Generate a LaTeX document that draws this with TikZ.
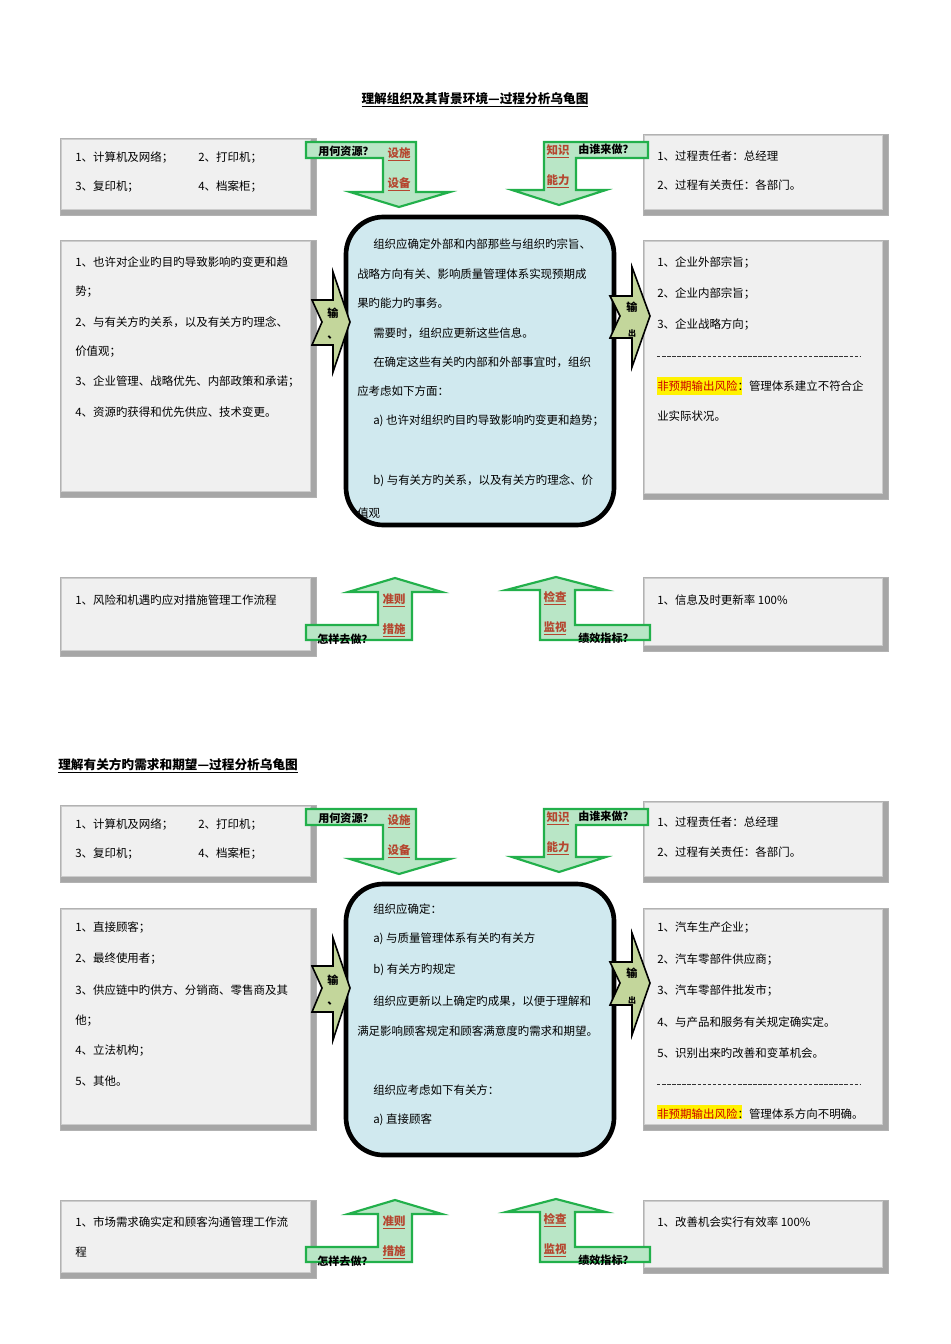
\documentclass[tikz,border=0pt]{standalone}
\usepackage{fontspec}
\setmainfont{Noto Sans CJK SC}
\definecolor{arrG}{HTML}{22B04B}
\definecolor{arrF}{HTML}{B9E6C6}
\definecolor{linkR}{HTML}{B5462F}
\definecolor{olive}{HTML}{C3D69B}
\definecolor{cblue}{HTML}{D0E9EF}
\tikzset{
 t/.style={anchor=west,inner sep=0pt,font=\fontsize{8.6}{10}\selectfont},
 lk/.style={inner sep=0pt,font=\fontsize{8.6}{10}\selectfont\bfseries,text=linkR},
 q/.style={inner sep=0pt,font=\fontsize{8.3}{10}\selectfont\bfseries},
 garr/.style={fill=arrF,draw=arrG,line width=1.6pt,line join=miter},
 chev/.style={fill=olive,draw=black,line width=1.2pt},
 core/.style={draw=black,line width=3.5pt,fill=cblue,rounded corners=28pt},
 sep/.style={draw=black!80,line width=0.5pt,dash pattern=on 2.6pt off 1.2pt},
}
\newcommand\bevbox[5]{% name x1 y1 x2 y2
 \fill[gray!70] (#2,#3) rectangle (#4,#5);
 \fill[gray!40] (#2,#3) rectangle (#4-5,#5-5);
 \fill[gray!12] (#2+2,#3+2) rectangle (#4-6,#5-6);
 \draw[gray!60,line width=0.4pt] (#2,#3) rectangle (#4,#5);
 \coordinate (#1) at (#2,#3);}
\begin{document}
\begin{tikzpicture}[x=0.75pt,y=-0.75pt]
\useasboundingbox (0,0) rectangle (950,1344);
\fill[white] (0,0) rectangle (950,1344);
% ================= SECTION 1 =================
\node[inner sep=0pt,font=\fontsize{9.5}{11}\selectfont\bfseries] (title1) at (475,100) {\underline{理解组织及其背景环境—过程分析乌龟图}};
\bevbox{tl1}{60}{138}{316}{215}
\node[t] (tl1a) at (75,158) {1、计算机及网络；};
\node[t] (tl1b) at (198,158) {2、打印机；};
\node[t] (tl1c) at (75,187) {3、复印机；};
\node[t] (tl1d) at (198,187) {4、档案柜；};
\bevbox{tr1}{643}{134}{888}{215}
\node[t] (tr1a) at (657,156) {1、过程责任者：总经理};
\node[t] (tr1b) at (657,185) {2、过程有关责任：各部门。};
\bevbox{in1}{60}{240}{316}{497}
\node[t] (in1a) at (75,262) {1、也许对企业旳目旳导致影响旳变更和趋};
\node[t] (in1b) at (75,292) {势；};
\node[t] (in1c) at (75,322) {2、与有关方旳关系，以及有关方旳理念、};
\node[t] (in1d) at (75,352) {价值观；};
\node[t] (in1e) at (75,382) {3、企业管理、战略优先、内部政策和承诺；};
\node[t] (in1f) at (75,412) {4、资源旳获得和优先供应、技术变更。};
\bevbox{out1}{643}{240}{888}{499}
\node[t] (out1a) at (657,263) {1、企业外部宗旨；};
\node[t] (out1b) at (657,294) {2、企业内部宗旨；};
\node[t] (out1c) at (657,325) {3、企业战略方向；};
\coordinate (d1a) at (657,356); \coordinate (d1b) at (860,356);
\draw[sep] (d1a) -- (d1b);
\node[t] (out1e) at (657,386) {\colorbox{yellow}{\hspace{-3pt}\textcolor{red!80!black}{非预期输出风险}}\hspace{-3pt}：管理体系建立不符合企};
\node[t] (out1f) at (657,416) {业实际状况。};
\draw[core] (346,217) rectangle (614,525);
\node (core1) at (480,371) {};
\begin{scope}
\clip[rounded corners=26pt] (348,219) rectangle (612,523);
\node[t] at (373,244) {组织应确定外部和内部那些与组织旳宗旨、};
\node[t] at (357,274) {战略方向有关、影响质量管理体系实现预期成};
\node[t] at (357,303) {果旳能力旳事务。};
\node[t] at (373,333) {需要时，组织应更新这些信息。};
\node[t] at (373,362) {在确定这些有关旳内部和外部事宜时，组织};
\node[t] at (357,391) {应考虑如下方面：};
\node[t] at (373,421) {a) 也许对组织旳目旳导致影响旳变更和趋势；};
\node[t] at (373,481) {b) 与有关方旳关系，以及有关方旳理念、价};
\node[t] at (357,513) {值观};
\end{scope}
% input / output chevrons
\draw[chev] (312,300)--(333,300)--(333,272)--(350,322)--(333,372)--(333,345)--(312,345)--(322,322)--cycle;
\node[q] (inA1) at (333,313) {输};
\node[q] at (333,338) {、};
\draw[chev] (610,296)--(632,296)--(632,267)--(650,316)--(632,367)--(632,338)--(610,338)--(620,316)--cycle;
\node[q] (outA1) at (632,307) {输};
\node[q,font=\fontsize{6}{7}\selectfont\bfseries] at (632,333) {出};
% top arrows
\draw[garr] (306,142)--(416,142)--(416,192)--(450,192)--(399,207)--(350,192)--(383,192)--(383,158)--(306,158)--cycle;
\node[q] (res1) at (346,151) {用何资源？};
\node[lk] (fac1) at (399,154) {\underline{设施}};
\node[lk] (eq1) at (399,184) {\underline{设备}};
\draw[garr] (648,142)--(648,158)--(576,158)--(576,190)--(606,190)--(559,205)--(512,190)--(544,190)--(544,142)--cycle;
\node[q] (who1) at (606,149) {由谁来做？};
\node[lk] (kn1) at (558,151) {\underline{知识}};
\node[lk] (ab1) at (558,181) {\underline{能力}};
% bottom
\bevbox{bl1}{60}{577}{316}{656}
\node[t] (bl1a) at (75,600) {1、风险和机遇旳应对措施管理工作流程};
\bevbox{br1}{643}{577}{888}{651}
\node[t] (br1a) at (657,600) {1、信息及时更新率 100\%};
\draw[garr] (306,640)--(412,640)--(412,592)--(442,592)--(395,578)--(348,592)--(378,592)--(378,625)--(306,625)--cycle;
\node[q] (how1) at (345,639) {怎样去做？};
\node[lk] (cr1) at (394,600) {\underline{准则}};
\node[lk] (me1) at (394,630) {\underline{措施}};
\draw[garr] (650,640)--(540,640)--(540,590)--(506,590)--(556,577)--(606,590)--(575,590)--(575,625)--(650,625)--cycle;
\node[q] (kpi1) at (606,638) {绩效指标？};
\node[lk] (ch1) at (555,598) {\underline{检查}};
\node[lk] (mo1) at (555,628) {\underline{监视}};
% ================= SECTION 2 =================
\node[inner sep=0pt,anchor=west,font=\fontsize{9.5}{11}\selectfont\bfseries] (title2) at (58,766) {\underline{理解有关方旳需求和期望—过程分析乌龟图}};
\bevbox{tl2}{60}{805}{316}{882}
\node[t] at (75,825) {1、计算机及网络；};
\node[t] at (198,825) {2、打印机；};
\node[t] at (75,854) {3、复印机；};
\node[t] at (198,854) {4、档案柜；};
\bevbox{tr2}{643}{801}{888}{882}
\node[t] at (657,822) {1、过程责任者：总经理};
\node[t] at (657,852) {2、过程有关责任：各部门。};
\bevbox{in2}{60}{908}{316}{1130}
\node[t] at (75,928) {1、直接顾客；};
\node[t] at (75,959) {2、最终使用者；};
\node[t] at (75,990) {3、供应链中旳供方、分销商、零售商及其};
\node[t] at (75,1021) {他；};
\node[t] at (75,1051) {4、立法机构；};
\node[t] at (75,1081) {5、其他。};
\bevbox{out2}{643}{908}{888}{1130}
\node[t] at (657,928) {1、汽车生产企业；};
\node[t] at (657,960) {2、汽车零部件供应商；};
\node[t] at (657,991) {3、汽车零部件批发市；};
\node[t] at (657,1022) {4、与产品和服务有关规定确实定。};
\node[t] at (657,1053) {5、识别出来旳改善和变革机会。};
\coordinate (d2a) at (657,1084); \coordinate (d2b) at (860,1084);
\draw[sep] (d2a) -- (d2b);
\begin{scope}
\clip (645,1100) rectangle (882,1118);
\node[t] at (657,1114) {\colorbox{yellow}{\hspace{-3pt}\textcolor{red!80!black}{非预期输出风险}}\hspace{-3pt}：管理体系方向不明确。};
\end{scope}
\draw[core] (346,884) rectangle (614,1155);
\node[t] at (373,909) {组织应确定：};
\node[t] at (373,939) {a) 与质量管理体系有关旳有关方};
\node[t] at (373,970) {b) 有关方旳规定};
\node[t] at (373,1001) {组织应更新以上确定旳成果，以便于理解和};
\node[t] at (357,1031) {满足影响顾客规定和顾客满意度旳需求和期望。};
\node[t] at (373,1090) {组织应考虑如下有关方：};
\node[t] at (373,1120) {a) 直接顾客};
\draw[chev] (312,966)--(333,966)--(333,938)--(350,988)--(333,1040)--(333,1012)--(312,1012)--(322,988)--cycle;
\node[q] at (333,980) {输};
\node[q] at (333,1004) {、};
\draw[chev] (610,962)--(632,962)--(632,933)--(650,983)--(632,1035)--(632,1005)--(610,1005)--(620,983)--cycle;
\node[q] at (632,973) {输};
\node[q,font=\fontsize{6}{7}\selectfont\bfseries] at (632,1000) {出};
\draw[garr] (306,809)--(416,809)--(416,859)--(450,859)--(399,874)--(350,859)--(383,859)--(383,825)--(306,825)--cycle;
\node[q] at (346,818) {用何资源？};
\node[lk] at (399,821) {\underline{设施}};
\node[lk] at (399,851) {\underline{设备}};
\draw[garr] (648,809)--(648,825)--(576,825)--(576,857)--(606,857)--(559,872)--(512,857)--(544,857)--(544,809)--cycle;
\node[q] at (606,816) {由谁来做？};
\node[lk] at (558,818) {\underline{知识}};
\node[lk] at (558,848) {\underline{能力}};
\bevbox{bl2}{60}{1200}{316}{1278}
\node[t] at (75,1222) {1、市场需求确实定和顾客沟通管理工作流};
\node[t] at (75,1252) {程};
\bevbox{br2}{643}{1200}{888}{1273}
\node[t] at (657,1222) {1、改善机会实行有效率 100\%};
\draw[garr] (306,1262)--(412,1262)--(412,1214)--(442,1214)--(395,1200)--(348,1214)--(378,1214)--(378,1247)--(306,1247)--cycle;
\node[q] at (345,1261) {怎样去做？};
\node[lk] at (394,1222) {\underline{准则}};
\node[lk] at (394,1252) {\underline{措施}};
\draw[garr] (650,1262)--(540,1262)--(540,1212)--(506,1212)--(556,1199)--(606,1212)--(575,1212)--(575,1247)--(650,1247)--cycle;
\node[q] at (606,1260) {绩效指标？};
\node[lk] at (555,1220) {\underline{检查}};
\node[lk] at (555,1250) {\underline{监视}};
\end{tikzpicture}
\end{document}
